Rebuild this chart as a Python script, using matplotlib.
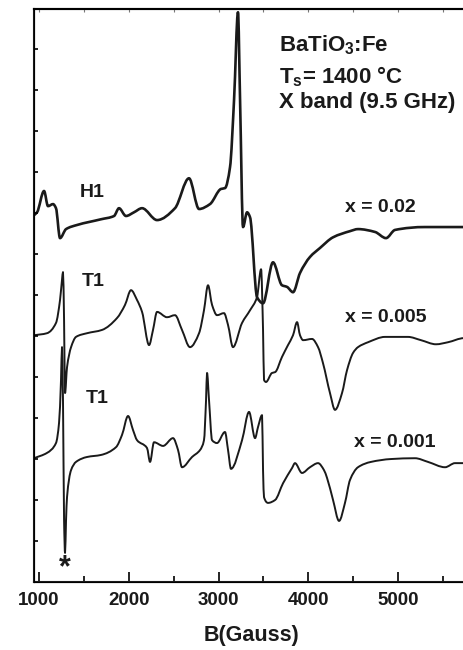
import matplotlib
matplotlib.use("Agg")
import matplotlib.pyplot as plt
from matplotlib.path import Path
from matplotlib.patches import PathPatch
import numpy as np

plt.rcParams['font.family'] = ['Liberation Sans', 'DejaVu Sans']
plt.rcParams['font.weight'] = 'bold'
plt.rcParams['mathtext.fontset'] = 'custom'
plt.rcParams['mathtext.rm'] = 'Liberation Sans:bold'
plt.rcParams['mathtext.default'] = 'rm'

# ---- data (B in Gauss, EPR signal in arbitrary units, offset per trace) ----
h1_B = [944, 978, 1056, 1100, 1156, 1189, 1234, 1301, 1423, 1691, 1836, 1891, 1969,
        2058, 2148, 2315, 2515, 2671, 2783, 2905, 3028, 3072, 3128, 3173, 3217, 3240,
        3273, 3318, 3351, 3429, 3496, 3607, 3707, 3763, 3830, 3908, 4019, 4131, 4276,
        4465, 4554, 4744, 4866, 4967, 5301, 5735, 5802]
h1_S = [8.95, 9.02, 9.54, 9.17, 9.22, 9.12, 8.39, 8.61, 8.71, 8.85, 8.93, 9.12, 8.93,
        9.02, 9.12, 8.83, 9.12, 9.85, 9.10, 9.22, 9.59, 9.61, 10.12, 11.76, 13.90, 11.76,
        8.66, 9.02, 8.90, 6.95, 6.80, 7.80, 7.24, 7.20, 7.07, 7.54, 7.93, 8.15, 8.41,
        8.56, 8.61, 8.54, 8.39, 8.59, 8.66, 8.66, 8.66]

t1a_B = [944, 1089, 1189, 1234, 1256, 1267, 1279, 1290, 1312, 1357, 1412, 1535, 1702,
         1869, 1958, 2025, 2092, 2148, 2226, 2270, 2315, 2426, 2515, 2593, 2682, 2783,
         2838, 2883, 2928, 2983, 3061, 3106, 3161, 3262, 3351, 3429, 3474, 3496, 3507,
         3529, 3596, 3630, 3707, 3774, 3830, 3875, 3908, 3942, 4042, 4109, 4164, 4242,
         4298, 4376, 4432, 4499, 4554, 4666, 4855, 5111, 5256, 5423, 5557, 5735, 5802]
t1a_S = [6.02, 6.07, 6.32, 6.88, 7.37, 7.56, 6.39, 4.61, 5.24, 5.73, 5.98, 6.07, 6.15,
         6.44, 6.76, 7.12, 6.88, 6.59, 5.78, 6.15, 6.59, 6.46, 6.51, 6.15, 5.73, 6.07,
         6.63, 7.24, 6.76, 6.51, 6.56, 6.27, 5.73, 6.32, 6.63, 6.95, 7.63, 6.15, 4.93,
         4.88, 5.10, 5.12, 5.49, 5.78, 6.02, 6.34, 6.02, 5.90, 5.93, 5.73, 5.34, 4.61,
         4.20, 4.61, 5.17, 5.59, 5.73, 5.85, 5.98, 5.98, 5.90, 5.80, 5.85, 5.95, 5.95]

t1b_B = [944, 1089, 1189, 1223, 1245, 1256, 1267, 1279, 1290, 1301, 1312, 1357, 1412,
         1535, 1691, 1858, 1925, 1992, 2047, 2092, 2203, 2237, 2281, 2382, 2493, 2549,
         2593, 2705, 2794, 2838, 2861, 2872, 2894, 2928, 2983, 3072, 3106, 3139, 3262,
         3340, 3407, 3440, 3485, 3496, 3507, 3552, 3630, 3719, 3819, 3852, 3930, 4019,
         4109, 4175, 4209, 4276, 4343, 4409, 4465, 4554, 4699, 4922, 5189, 5334, 5524,
         5635, 5735, 5802]
t1b_S = [3.02, 3.15, 3.39, 3.88, 4.93, 5.73, 4.44, 1.51, 0.71, 1.51, 2.07, 2.73, 2.93,
         3.05, 3.10, 3.29, 3.59, 4.05, 3.71, 3.46, 3.27, 2.93, 3.41, 3.32, 3.51, 3.22,
         2.80, 3.05, 3.22, 3.46, 4.44, 5.10, 4.44, 3.46, 3.39, 3.66, 3.22, 2.76, 3.46,
         4.15, 3.51, 3.78, 4.07, 2.73, 2.07, 1.93, 2.00, 2.41, 2.78, 2.90, 2.66, 2.80,
         2.90, 2.73, 2.54, 2.00, 1.49, 1.93, 2.49, 2.80, 2.93, 3.00, 3.02, 2.93, 2.80,
         2.90, 2.90, 2.90]

x_major = [1000, 2000, 3000, 4000, 5000]
x_labels = ["1000", "2000", "3000", "4000", "5000"]
x_minor = [1500, 2500, 3500, 4500, 5500]
y_ticks = list(range(1, 14))


def smooth_path(xs, ys):
    """Monotone cubic (Fritsch-Carlson) rendering of the measured points as Bezier segments."""
    x = np.asarray(xs, float)
    y = np.asarray(ys, float)
    h = np.diff(x)
    d = np.diff(y) / h
    n = len(x)
    m = np.zeros(n)
    m[0], m[-1] = d[0], d[-1]
    for i in range(1, n - 1):
        if d[i - 1] * d[i] <= 0:
            m[i] = 0.0
        else:
            w1 = 2 * h[i] + h[i - 1]
            w2 = h[i] + 2 * h[i - 1]
            m[i] = (w1 + w2) / (w1 / d[i - 1] + w2 / d[i])
    verts = [(x[0], y[0])]
    codes = [Path.MOVETO]
    for i in range(n - 1):
        verts += [(x[i] + h[i] / 3, y[i] + m[i] * h[i] / 3),
                  (x[i + 1] - h[i] / 3, y[i + 1] - m[i + 1] * h[i] / 3),
                  (x[i + 1], y[i + 1])]
        codes += [Path.CURVE4] * 3
    return Path(verts, codes)


W, H = 464, 650
fig = plt.figure(figsize=(W / 100, H / 100), dpi=100)
L, R, T, B = 34, 470, 9, 582
ax = fig.add_axes([L / W, 1 - B / H, (R - L) / W, (B - T) / H])

for xs, ys, lw in [(h1_B, h1_S, 1.9), (t1a_B, t1a_S, 1.4), (t1b_B, t1b_S, 1.4)]:
    ax.add_patch(PathPatch(smooth_path(xs, ys), facecolor='none', edgecolor='#1a1a1a',
                           lw=lw, joinstyle='round', capstyle='round'))

ax.set_xlim(944, 5802)
ax.set_ylim(0, 13.98)

for s in ['left', 'bottom', 'top']:
    ax.spines[s].set_linewidth(1.5)
    ax.spines[s].set_color('#1a1a1a')
ax.spines['right'].set_visible(False)

ax.set_xticks(x_major)
ax.set_xticklabels(x_labels, fontsize=13.5, fontweight='bold', color='#1a1a1a')
ax.set_xticks(x_minor, minor=True)
ax.tick_params(axis='x', which='major', direction='in', length=7, width=1.2, pad=7, top=False)
ax.tick_params(axis='x', which='minor', direction='in', length=4, width=1.2, top=False)
ax.set_yticks(y_ticks)
ax.set_yticklabels([])
ax.tick_params(axis='y', which='major', direction='in', length=3, width=1.2, right=False)

ax2 = ax.twiny()
ax2.set_xlim(ax.get_xlim())
ax2.set_xticks(x_major + x_minor)
ax2.set_xticklabels([])
ax2.tick_params(axis='x', direction='in', length=2.5, width=0.8, color='#777777')
ax2.spines['right'].set_visible(False)
ax2.spines['top'].set_linewidth(1.5)

ax.set_xlabel("B(Gauss)", fontsize=15.5, fontweight='bold', labelpad=12, color='#1a1a1a')


def ftext(px, py, s, size, **kw):
    fig.text(px / W, 1 - py / H, s, fontsize=size, fontweight='bold', va='baseline',
             color='#1a1a1a', **kw)


ftext(80, 197, "H1", 14)
ftext(82, 286, "T1", 14)
ftext(86, 403, "T1", 14)
ftext(345, 212, "x = 0.02", 14)
ftext(345, 322, "x = 0.005", 14)
ftext(354, 447, "x = 0.001", 14)
ftext(279, 51, "BaTiO$_3$:Fe", 16)
ftext(279, 83, "T$_s$= 1400 °C", 16)
ftext(279, 108, "X band (9.5 GHz)", 16)
fig.text(65 / W, 1 - 568 / H, "*", fontsize=22, fontweight='bold', ha='center', va='center',
         color='#1a1a1a')

fig.savefig("out.png", dpi=100)
